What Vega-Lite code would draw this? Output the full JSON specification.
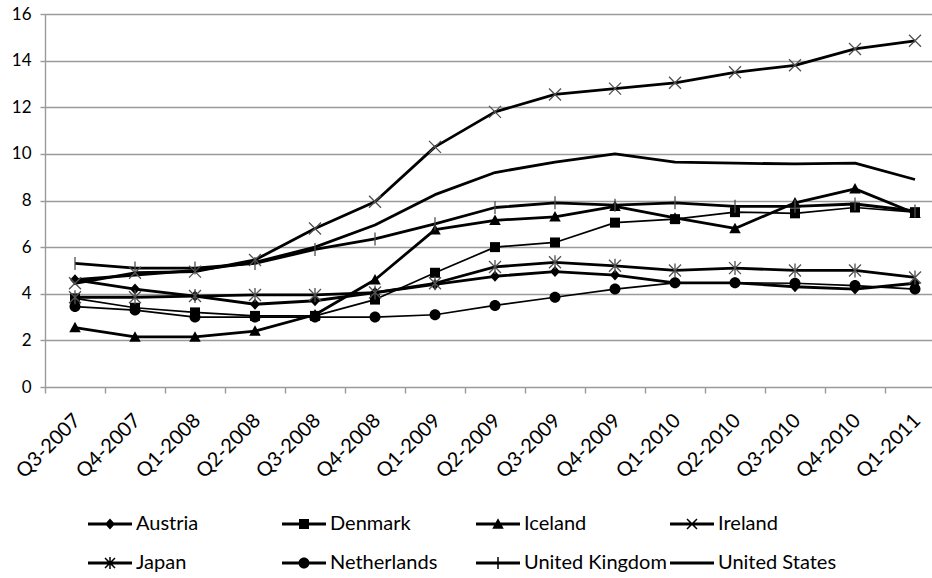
{
  "$schema": "https://vega.github.io/schema/vega-lite/v6.json",
  "width": 880,
  "height": 373,
  "autosize": {"type": "none"},
  "padding": {"left": 45, "top": 14, "right": 7, "bottom": 191},
  "background": "white",
  "config": {
    "view": {"stroke": null},
    "font": "Lato",
    "axis": {"labelFont": "Lato", "labelColor": "#000", "labelFontSize": 17, "gridColor": "#9a9a9a", "gridWidth": 1.4, "domainColor": "#9a9a9a", "domainWidth": 1.4, "tickColor": "#9a9a9a", "tickWidth": 1.4},
    "legend": {"labelFont": "Lato", "labelFontSize": 20, "labelColor": "#000", "labelLimit": 300, "symbolOpacity": 1}
  },
  "data": {
    "values": [
      {"q": "Q3-2007", "Austria": 4.6, "Denmark": 3.8, "Iceland": 2.55, "Ireland": 4.45, "Japan": 3.85, "Netherlands": 3.45, "United Kingdom": 5.3, "United States": 4.6},
      {"q": "Q4-2007", "Austria": 4.2, "Denmark": 3.4, "Iceland": 2.15, "Ireland": 4.9, "Japan": 3.85, "Netherlands": 3.3, "United Kingdom": 5.1, "United States": 4.8},
      {"q": "Q1-2008", "Austria": 3.9, "Denmark": 3.2, "Iceland": 2.15, "Ireland": 4.95, "Japan": 3.9, "Netherlands": 3.0, "United Kingdom": 5.1, "United States": 5.0},
      {"q": "Q2-2008", "Austria": 3.55, "Denmark": 3.05, "Iceland": 2.4, "Ireland": 5.45, "Japan": 3.95, "Netherlands": 3.0, "United Kingdom": 5.3, "United States": 5.35},
      {"q": "Q3-2008", "Austria": 3.7, "Denmark": 3.05, "Iceland": 3.1, "Ireland": 6.8, "Japan": 3.95, "Netherlands": 3.0, "United Kingdom": 5.9, "United States": 6.0},
      {"q": "Q4-2008", "Austria": 4.05, "Denmark": 3.75, "Iceland": 4.6, "Ireland": 7.95, "Japan": 4.05, "Netherlands": 3.0, "United Kingdom": 6.35, "United States": 6.95},
      {"q": "Q1-2009", "Austria": 4.4, "Denmark": 4.9, "Iceland": 6.75, "Ireland": 10.3, "Japan": 4.45, "Netherlands": 3.1, "United Kingdom": 7.0, "United States": 8.25},
      {"q": "Q2-2009", "Austria": 4.75, "Denmark": 6.0, "Iceland": 7.15, "Ireland": 11.8, "Japan": 5.15, "Netherlands": 3.5, "United Kingdom": 7.7, "United States": 9.2},
      {"q": "Q3-2009", "Austria": 4.95, "Denmark": 6.2, "Iceland": 7.3, "Ireland": 12.55, "Japan": 5.35, "Netherlands": 3.85, "United Kingdom": 7.9, "United States": 9.65},
      {"q": "Q4-2009", "Austria": 4.8, "Denmark": 7.05, "Iceland": 7.75, "Ireland": 12.8, "Japan": 5.2, "Netherlands": 4.2, "United Kingdom": 7.8, "United States": 10.0},
      {"q": "Q1-2010", "Austria": 4.47, "Denmark": 7.2, "Iceland": 7.25, "Ireland": 13.05, "Japan": 5.0, "Netherlands": 4.47, "United Kingdom": 7.9, "United States": 9.65},
      {"q": "Q2-2010", "Austria": 4.47, "Denmark": 7.5, "Iceland": 6.8, "Ireland": 13.5, "Japan": 5.1, "Netherlands": 4.47, "United Kingdom": 7.75, "United States": 9.6},
      {"q": "Q3-2010", "Austria": 4.3, "Denmark": 7.45, "Iceland": 7.9, "Ireland": 13.8, "Japan": 5.0, "Netherlands": 4.45, "United Kingdom": 7.75, "United States": 9.57},
      {"q": "Q4-2010", "Austria": 4.2, "Denmark": 7.7, "Iceland": 8.5, "Ireland": 14.5, "Japan": 5.0, "Netherlands": 4.35, "United Kingdom": 7.85, "United States": 9.6},
      {"q": "Q1-2011", "Austria": 4.45, "Denmark": 7.5, "Iceland": 7.45, "Ireland": 14.85, "Japan": 4.7, "Netherlands": 4.2, "United Kingdom": 7.55, "United States": 8.9}
    ]
  },
  "transform": [
    {"fold": ["Austria", "Denmark", "Iceland", "Ireland", "Japan", "Netherlands", "United Kingdom", "United States"], "as": ["country", "value"]}
  ],
  "encoding": {
    "x": {
      "field": "q", "type": "ordinal", "sort": null, "title": null,
      "scale": {"type": "band", "range": [0, 900], "paddingInner": 0, "paddingOuter": 0},
      "axis": {"domain": false, "grid": false, "tickBand": "extent", "tickSize": 6, "labelAngle": -45, "labelAlign": "right", "labelBaseline": "middle", "labelPadding": 24, "labelOffset": 2, "labelFontSize": 20}
    },
    "y": {
      "field": "value", "type": "quantitative", "title": null,
      "scale": {"domain": [0, 16], "nice": false},
      "axis": {"values": [0, 2, 4, 6, 8, 10, 12, 14, 16], "tickSize": 5, "labelPadding": 9, "grid": true}
    }
  },
  "layer": [
    {
      "transform": [{"filter": {"field": "country", "oneOf": ["Austria", "Iceland", "Ireland", "Japan", "United Kingdom", "United States"]}}],
      "mark": {"type": "line", "color": "black", "strokeWidth": 2.8, "strokeJoin": "round"},
      "encoding": {"detail": {"field": "country", "type": "nominal"}}
    },
    {
      "transform": [{"filter": {"field": "country", "oneOf": ["Denmark", "Netherlands"]}}],
      "mark": {"type": "line", "color": "black", "strokeWidth": 1.7, "strokeJoin": "round"},
      "encoding": {"detail": {"field": "country", "type": "nominal"}}
    },
    {
      "transform": [{"filter": {"field": "country", "oneOf": ["Austria", "Denmark", "Iceland", "Netherlands"]}}],
      "mark": {"type": "point", "filled": true, "color": "black", "size": 100, "opacity": 1},
      "encoding": {
        "shape": {
          "field": "country", "type": "nominal", "legend": null,
          "scale": {
            "domain": ["Austria", "Denmark", "Iceland", "Netherlands"],
            "range": ["M0,-1.1L1,0L0,1.1L-1,0Z", "M-1,-1H1V1H-1Z", "M0,-1.15L1.15,0.95H-1.15Z", "M-1.1,0A1.1,1.1,0,1,0,1.1,0A1.1,1.1,0,1,0,-1.1,0Z"]
          }
        }
      }
    },
    {
      "transform": [{"filter": {"field": "country", "oneOf": ["Ireland", "Japan", "United Kingdom"]}}],
      "mark": {"type": "point", "filled": false, "color": "#505050", "strokeWidth": 1.3, "size": 100, "opacity": 1},
      "encoding": {
        "shape": {
          "field": "country", "type": "nominal", "legend": null,
          "scale": {
            "domain": ["Ireland", "Japan", "United Kingdom"],
            "range": ["M-1.2,-1.2L1.2,1.2M-1.2,1.2L1.2,-1.2", "M-1.2,-1.2L1.2,1.2M-1.2,1.2L1.2,-1.2M0,-1.4V1.4", "M0,-1.3V1.3"]
          }
        }
      }
    },
    {
      "transform": [{"filter": "datum.value < -100"}],
      "mark": {"type": "point", "filled": true, "color": "black", "size": 100, "opacity": 1},
      "encoding": {
        "shape": {
          "field": "country", "type": "nominal", "title": null,
          "scale": {
            "domain": ["Austria", "Denmark", "Iceland", "Ireland", "Japan", "Netherlands", "United Kingdom", "United States"],
            "range": [
              "M-4.4,-0.3H4.4V0.3H-4.4ZM0,-1.1L1,0L0,1.1L-1,0Z",
              "M-4.4,-0.3H4.4V0.3H-4.4ZM-1,-1H1V1H-1Z",
              "M-4.4,-0.3H4.4V0.3H-4.4ZM0,-1.15L1.15,0.95H-1.15Z",
              "M-4.4,-0.3H4.4V0.3H-4.4ZM-0.894,-1.106L1.106,0.894L0.894,1.106L-1.106,-0.894ZM-1.106,0.894L0.894,-1.106L1.106,-0.894L-0.894,1.106Z",
              "M-4.4,-0.3H4.4V0.3H-4.4ZM-0.894,-1.106L1.106,0.894L0.894,1.106L-1.106,-0.894ZM-1.106,0.894L0.894,-1.106L1.106,-0.894L-0.894,1.106ZM-0.15,-1.2H0.15V1.2H-0.15Z",
              "M-4.4,-0.3H4.4V0.3H-4.4ZM-1.1,0A1.1,1.1,0,1,1,1.1,0A1.1,1.1,0,1,1,-1.1,0Z",
              "M-4.4,-0.3H4.4V0.3H-4.4ZM-0.15,-1.2H0.15V1.2H-0.15Z",
              "M-4.4,-0.3H4.4V0.3H-4.4Z"
            ]
          },
          "legend": {
            "orient": "none", "legendX": 55, "legendY": 500, "direction": "horizontal", "columns": 4, "gridAlign": "all",
            "padding": 0, "symbolSize": 100, "labelOffset": 16, "columnPadding": 0, "rowPadding": 19,
            "symbolFillColor": "black", "symbolOpacity": 1
          }
        }
      }
    }
  ],
  "resolve": {"scale": {"shape": "independent"}, "legend": {"shape": "independent"}}
}
